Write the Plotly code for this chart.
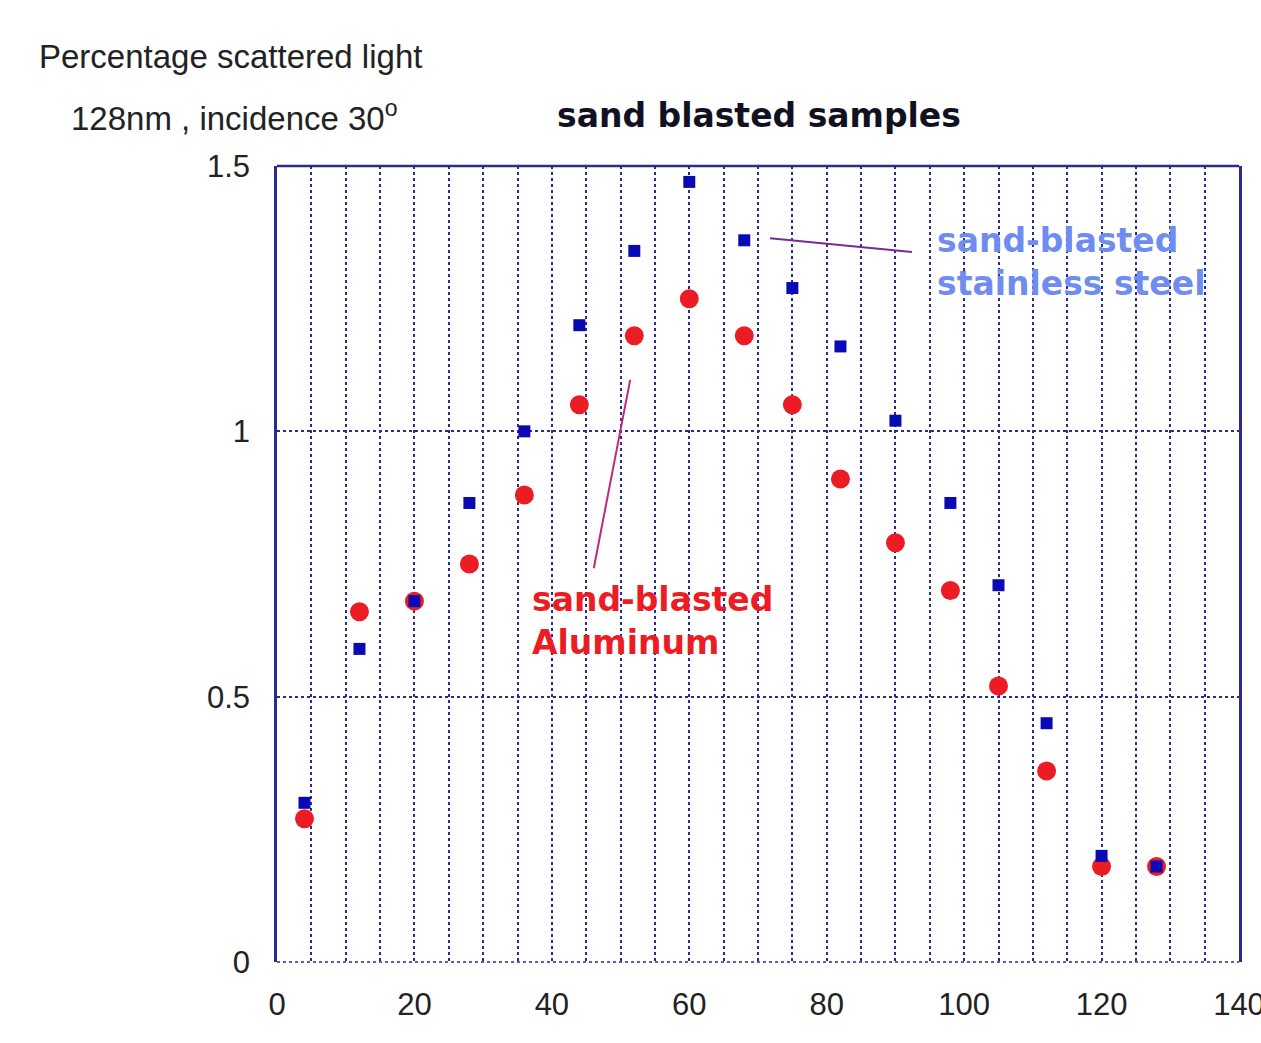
import plotly.graph_objects as go

# Data
angles = [4, 12, 20, 28, 36, 44, 52, 60, 68, 75, 82, 90, 98, 105, 112, 120, 128]
steel = [0.30, 0.59, 0.68, 0.865, 1.00, 1.20, 1.34, 1.47, 1.36, 1.27, 1.16, 1.02, 0.865, 0.71, 0.45, 0.20, 0.18]
aluminum = [0.27, 0.66, 0.68, 0.75, 0.88, 1.05, 1.18, 1.25, 1.18, 1.05, 0.91, 0.79, 0.70, 0.52, 0.36, 0.18, 0.18]
x_ticks = [0, 20, 40, 60, 80, 100, 120, 140]
y_ticks = [0, 0.5, 1, 1.5]
y_tick_labels = ["0", "0.5", "1", "1.5"]

NAVY = "#2b2b8c"

fig = go.Figure()
fig.add_trace(go.Scatter(
    x=angles, y=aluminum, mode="markers", name="sand-blasted Aluminum",
    marker=dict(symbol="circle", size=19, color="#ec1c24", line=dict(width=0)),
    cliponaxis=False,
))
fig.add_trace(go.Scatter(
    x=angles, y=steel, mode="markers", name="sand-blasted stainless steel",
    marker=dict(symbol="square", size=12, color="#0a0ab4", line=dict(width=0)),
    cliponaxis=False,
))

# pointer lines
fig.add_shape(type="line", x0=71.75, y0=1.364, x1=92.4, y1=1.338,
              line=dict(color="#7a2a9a", width=2))
fig.add_shape(type="line", x0=51.4, y0=1.097, x1=46.1, y1=0.742,
              line=dict(color="#c02a7a", width=2))
# top frame line
fig.add_shape(type="line", xref="paper", yref="paper", x0=0, x1=1, y0=1, y1=1,
              line=dict(color=NAVY, width=2.5))
# dotted bottom edge
fig.add_shape(type="line", xref="paper", yref="paper", x0=0, x1=1, y0=0, y1=0,
              line=dict(color=NAVY, width=1.5, dash="dot"), layer="below")

fig.add_annotation(x=36.8, y=0.6425, xref="x", yref="y", xanchor="left", yanchor="middle",
                   text="sand-blasted<br>Aluminum", showarrow=False, align="left",
                   font=dict(family="DejaVu Sans", size=33, color="#ec1c24", weight="bold"))
fig.add_annotation(x=95.8, y=1.319, xref="x", yref="y", xanchor="left", yanchor="middle",
                   text="sand-blasted<br>stainless steel", showarrow=False, align="left",
                   font=dict(family="DejaVu Sans", size=33, color="#6f8cf0", weight="bold"))

fig.add_annotation(x=(759 - 277) / 962, y=(962 - 115) / 796, xref="paper", yref="paper",
                   xanchor="center", yanchor="middle", showarrow=False,
                   text="sand blasted samples",
                   font=dict(family="DejaVu Sans", size=33, color="#111122", weight="bold"))
fig.add_annotation(x=(37 - 277) / 962, y=(962 - 57) / 796, xref="paper", yref="paper",
                   xanchor="left", yanchor="middle", showarrow=False,
                   text="Percentage scattered light",
                   font=dict(family="Liberation Sans", size=33, color="#222222"))
fig.add_annotation(x=(69 - 277) / 962, y=(962 - 116) / 796, xref="paper", yref="paper",
                   xanchor="left", yanchor="middle", showarrow=False,
                   text="128nm , incidence 30<sup>o</sup>",
                   font=dict(family="Liberation Sans", size=33, color="#222222"))

fig.update_layout(
    width=1261, height=1043, autosize=False,
    margin=dict(l=277, r=22, t=166, b=81, autoexpand=False),
    paper_bgcolor="white", plot_bgcolor="white",
    showlegend=False,
    font=dict(family="Liberation Sans", size=31, color="#222222"),
    xaxis=dict(
        range=[0, 140], tickvals=x_ticks, ticktext=[str(v) for v in x_ticks],
        showline=False, zeroline=False, automargin=False,
        showgrid=True, gridcolor=NAVY, griddash="dot", gridwidth=1.5,
        minor=dict(dtick=5, showgrid=True, gridcolor=NAVY, griddash="dot", gridwidth=1.5),
        ticks="", ticklabelstandoff=21, ticklabeloverflow="allow",
        tickfont=dict(family="Liberation Sans", size=31, color="#222222"),
    ),
    xaxis2=dict(
        overlaying="x", anchor="y", side="top", range=[0, 140],
        tickvals=x_ticks, showticklabels=False, showgrid=False, zeroline=False,
        showline=False, automargin=False,
        ticks="inside", ticklen=16, tickwidth=2, tickcolor=NAVY,
        minor=dict(dtick=5, ticks="inside", ticklen=8, tickwidth=2, tickcolor=NAVY),
    ),
    yaxis=dict(
        range=[0, 1.5], tickvals=y_ticks, ticktext=y_tick_labels,
        showline=True, mirror=True, linecolor=NAVY, linewidth=2.5, zeroline=False,
        automargin=False,
        showgrid=True, gridcolor=NAVY, griddash="dot", gridwidth=1.5,
        ticks="", ticklabelstandoff=18,
        tickfont=dict(family="Liberation Sans", size=31, color="#222222"),
    ),
)

fig.write_html(
    "out.html",
    config={"responsive": False, "displayModeBar": False},
    post_script="document.body.style.margin='0';document.body.style.overflow='hidden';",
)
